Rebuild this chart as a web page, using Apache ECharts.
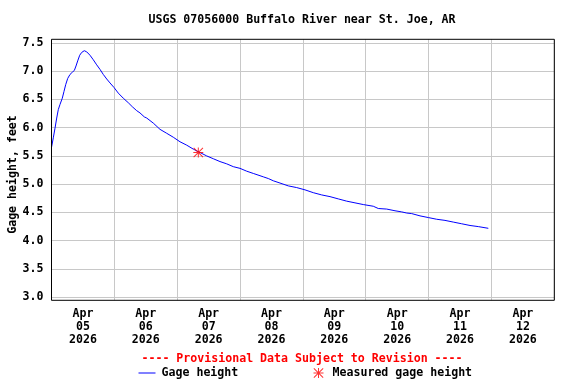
<!DOCTYPE html>
<html><head><meta charset="utf-8">
<script src="https://cdn.jsdelivr.net/npm/echarts@6/dist/echarts.min.js"></script>
<style>html,body{margin:0;padding:0;background:#fff}#c{width:576px;height:384px}</style>
</head><body><div id="c"></div>
<script>
const chartTitle = 'USGS 07056000 Buffalo River near St. Joe, AR';
const provisionalNote = '---- Provisional Data Subject to Revision ----';
const yAxisTitle = 'Gage height, feet';
const dayLabels = ['Apr\n05\n2026','Apr\n06\n2026','Apr\n07\n2026','Apr\n08\n2026','Apr\n09\n2026','Apr\n10\n2026','Apr\n11\n2026','Apr\n12\n2026'];
const yTicks = [3.0, 3.5, 4.0, 4.5, 5.0, 5.5, 6.0, 6.5, 7.0, 7.5];
// hours since 2026-04-05 00:00
const gageHours = [0,0.69,1.34,1.99,2.6,3.25,4.12,4.77,5.42,6.19,7.06,7.94,8.71,9.36,10.0,10.77,11.53,12.52,13.44,14.70,15.96,17.26,18.52,19.78,21.08,22.34,23.87,25.51,27.42,29.33,30.85,32.53,33.79,35.44,36.35,38.87,41.43,43.99,46.51,49.07,51.63,54.15,56.71,59.26,61.79,64.34,66.90,69.42,71.98,74.54,77.06,79.62,80.88,82.79,84.70,87.25,90.42,93.63,96.80,99.97,103.18,106.35,109.52,112.72,115.89,119.06,122.88,124.79,128.0,131.17,133.73,135.64,137.55,140.72,143.88,147.09,150.26,153.43,156.64,159.81,162.98,166.80];
const gageHeight = [5.65,5.82,5.99,6.17,6.32,6.41,6.52,6.64,6.76,6.87,6.94,6.98,7.01,7.09,7.18,7.28,7.33,7.36,7.34,7.28,7.20,7.11,7.03,6.94,6.86,6.79,6.71,6.61,6.52,6.44,6.37,6.30,6.26,6.19,6.17,6.08,5.97,5.90,5.83,5.75,5.69,5.62,5.56,5.50,5.45,5.40,5.36,5.31,5.28,5.23,5.19,5.15,5.13,5.10,5.06,5.02,4.97,4.94,4.90,4.85,4.81,4.78,4.74,4.70,4.67,4.64,4.61,4.57,4.56,4.53,4.51,4.49,4.48,4.44,4.41,4.38,4.36,4.33,4.30,4.27,4.25,4.22];
const measuredHours = [56.06];
const measuredHeight = [5.56];

const FONT = '"DejaVu Sans Mono", "Liberation Mono", monospace';
const FS = 11.6;
const txt = {fontFamily: FONT, fontWeight: 'bold', fontSize: FS, color: '#000'};
const GRID_COLOR = '#c8c8c8';
const star = 'path://M0 9L20 9L20 11L0 11Z M9 0L11 0L11 20L9 20Z M1.4 0L20 18.6L18.6 20L0 1.4Z M18.6 0L20 1.4L1.4 20L0 18.6Z';

const chart = echarts.init(document.getElementById('c'), null, {renderer: 'canvas'});
const option = {
  animation: false,
  backgroundColor: '#fff',
  textStyle: txt,
  title: [
    {text: chartTitle, left: 302, top: 14, textAlign: 'center', padding: 0, textStyle: txt},
    {text: provisionalNote, left: 302, top: 353, textAlign: 'center', padding: 0, textStyle: Object.assign({}, txt, {color: '#ff0000'})}
  ],
  graphic: [
    {type: 'text', x: 12.5, y: 174.5, rotation: Math.PI / 2,
     style: {text: yAxisTitle, align: 'center', verticalAlign: 'middle', fill: '#000',
             font: 'bold ' + FS + 'px ' + FONT}}
  ],
  legend: [
    {data: [{name: 'Gage height', icon: 'rect'}], left: 138.5, top: 367, padding: 0, itemWidth: 17, itemHeight: 1, textStyle: Object.assign({}, txt, {padding: [0, 0, 0, 1]})},
    {data: [{name: 'Measured gage height', icon: star}], left: 313.5, top: 367, padding: 0, itemWidth: 10, itemHeight: 10, textStyle: Object.assign({}, txt, {padding: [0, 0, 0, 4]})}
  ],
  grid: [
    {left: 51.5, right: 21.7, top: 42.8, bottom: 86.7, containLabel: false, outerBoundsMode: 'none'},
    {left: 51.5, right: 21.7, top: 39.3, bottom: 83.7, containLabel: false, outerBoundsMode: 'none', show: true, borderColor: '#000', borderWidth: 1, backgroundColor: 'transparent', z: 5}
  ],
  xAxis: [
    {type: 'value', gridIndex: 0, min: 0, max: 192, show: false},
    {type: 'category', gridIndex: 1, data: dayLabels, boundaryGap: true, position: 'bottom',
     axisLine: {show: false}, axisTick: {show: false},
     splitLine: {show: true, interval: 0, lineStyle: {color: GRID_COLOR, width: 1}},
     axisLabel: Object.assign({interval: 0, margin: 7.5, lineHeight: 13}, txt)}
  ],
  yAxis: [
    {type: 'value', gridIndex: 0, min: yTicks[0], max: yTicks[yTicks.length - 1], interval: 0.5,
     axisLine: {show: false}, axisTick: {show: false},
     splitLine: {show: true, lineStyle: {color: GRID_COLOR, width: 1}},
     axisLabel: Object.assign({margin: 8, formatter: v => v.toFixed(1)}, txt)},
    {type: 'value', gridIndex: 1, min: 0, max: 1, show: false, splitLine: {show: false}}
  ],
  series: [
    {name: 'Gage height', type: 'line', xAxisIndex: 0, yAxisIndex: 0, symbol: 'none', showSymbol: false,
     data: gageHours.map((h, i) => [h, gageHeight[i]]),
     lineStyle: {color: '#0000ff', width: 1}, itemStyle: {color: '#0000ff'}, z: 3},
    {name: 'Measured gage height', type: 'scatter', xAxisIndex: 0, yAxisIndex: 0, symbol: star, symbolSize: 10,
     data: measuredHours.map((h, i) => [h, measuredHeight[i]]),
     itemStyle: {color: '#ff0000'}, z: 4}
  ]
};
chart.setOption(option);
</script></body></html>
